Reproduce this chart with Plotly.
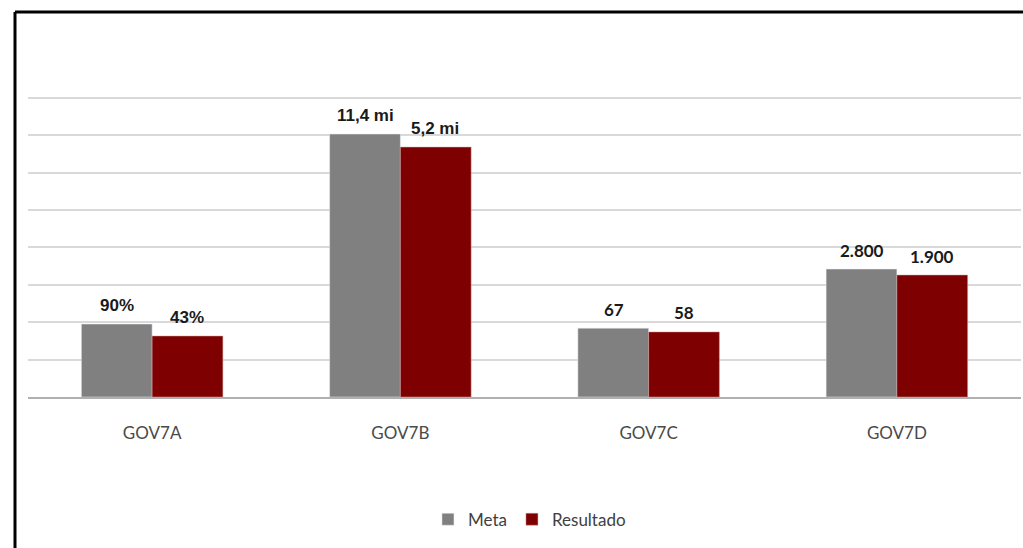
import plotly.graph_objects as go

# categories and bar heights (as drawn on the chart's hidden scale)
categorias = ['GOV7A', 'GOV7B', 'GOV7C', 'GOV7D']
meta = [1.95, 7.03, 1.84, 3.42]
resultado = [1.63, 6.68, 1.74, 3.26]

# labels shown above the bars
rotulos_meta = ['90%', '11,4 mi', '67', '2.800']
rotulos_resultado = ['43%', '5,2 mi', '58', '1.900']
fontes_rotulo = ['Liberation Sans', 'Liberation Sans', 'Lato', 'Lato']

fig = go.Figure()
fig.add_trace(go.Bar(name='Meta', x=categorias, y=meta, marker_color='#808080'))
fig.add_trace(go.Bar(name='Resultado', x=categorias, y=resultado, marker_color='#7f0000',
                     marker_line=dict(color='#c9a0a0', width=0.5)))

# data labels
for cat, v, t, f in zip(categorias, meta, rotulos_meta, fontes_rotulo):
    fig.add_annotation(x=cat, y=v, text='<b>%s</b>' % t, showarrow=False, xshift=-35, yshift=19,
                       font=dict(family=f, size=17, color='#1a1a1a'))
for cat, v, t, f in zip(categorias, resultado, rotulos_resultado, fontes_rotulo):
    fig.add_annotation(x=cat, y=v, text='<b>%s</b>' % t, showarrow=False, xshift=35, yshift=19,
                       font=dict(family=f, size=17, color='#1a1a1a'))

# black frame (left and top edges visible in the picture)
x0 = (15 - 28) / 993
y0 = (397 - 12) / 303
fig.add_shape(type='line', xref='paper', yref='paper', x0=x0, x1=x0, y0=-1, y1=y0,
              line=dict(color='black', width=3))
fig.add_shape(type='line', xref='paper', yref='paper', x0=x0, x1=1.1, y0=y0, y1=y0,
              line=dict(color='black', width=3))

fig.update_layout(
    barmode='group',
    bargap=0.43,
    bargroupgap=0,
    width=1023,
    height=548,
    margin=dict(l=28, r=2, t=94, b=151, autoexpand=False),
    plot_bgcolor='white',
    paper_bgcolor='white',
    showlegend=True,
    legend=dict(orientation='h', x=0.505, xanchor='center', y=-0.405, yanchor='middle',
                font=dict(family='Lato', size=17, color='#404040'), itemwidth=30),
    xaxis=dict(showline=True, linecolor='#b0b0b0', linewidth=1.5, ticks='',
               tickfont=dict(family='Lato', size=17, color='#4a4a4a'), ticklabelstandoff=20),
    yaxis=dict(range=[0, 8.1], dtick=1, showticklabels=False, gridcolor='#d9d9d9',
               gridwidth=1.5, zeroline=False),
)

# drop the default page margin so the figure fills the window
fig.write_html('out.html', config={'displayModeBar': False},
               post_script="document.body.style.margin='0';document.body.style.overflow='hidden';")
